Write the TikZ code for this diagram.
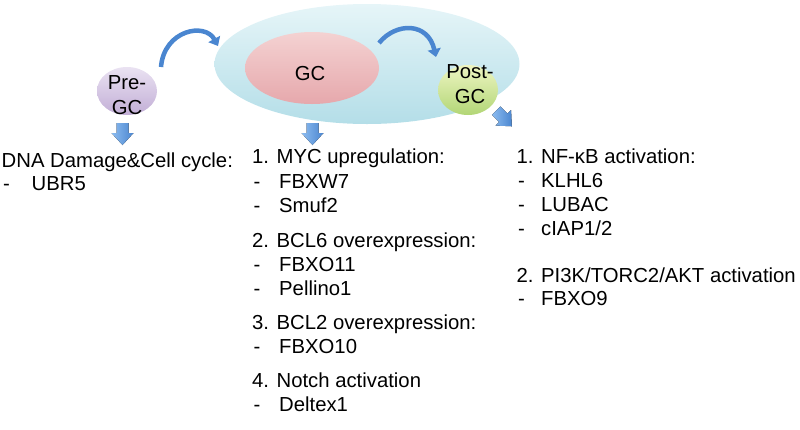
\documentclass[tikz,border=0pt]{standalone}
\usepackage{fontspec}
\setmainfont{Liberation Sans}
\usetikzlibrary{arrows.meta,shapes.geometric}
\definecolor{arrowblue}{HTML}{4A86D0}
\definecolor{arrowlight}{HTML}{8CBCF0}
\definecolor{zonetop}{HTML}{E6F5F8}
\definecolor{zonebot}{HTML}{B4DEE8}
\definecolor{gctop}{HTML}{F4D2D2}
\definecolor{gcbot}{HTML}{E6A8AC}
\definecolor{pretop}{HTML}{EAE2F2}
\definecolor{prebot}{HTML}{C2AED6}
\definecolor{posttop}{HTML}{EEF5C2}
\definecolor{postbot}{HTML}{B2D676}
\newcommand\dashitem[2]{\makebox[#1][l]{-}#2}
\newcommand\blockarrowat[3]{%
  \fill[blockfill,shift={(#1,#2)},rotate=#3]
    (-6,-11) -- (6,-11) -- (6,-1) -- (11,-1) -- (0,11) -- (-11,-1) -- (-6,-1) -- cycle;}
\tikzset{
  txt/.style={anchor=base west,inner sep=0pt,font=\fontsize{20.3}{24}\selectfont},
  cell/.style={ellipse,inner sep=0pt,draw=none},
  celltxt/.style={inner sep=0pt,font=\fontsize{20.3}{24.5}\selectfont,align=center},
  blockfill/.style={left color=arrowlight,right color=arrowblue},
  curvearrow/.style={draw=arrowblue,line width=4.5pt,-{Triangle[length=8pt,width=13pt]}}
}
\begin{document}
\begin{tikzpicture}[x=1pt,y=-1pt]
\useasboundingbox (0,0) rectangle (800,429);
% big GC zone
\node[cell,minimum width=305pt,minimum height=120pt,top color=zonetop,bottom color=zonebot] (zone) at (367,64) {};
\node[cell,minimum width=134pt,minimum height=72pt,top color=gctop,bottom color=gcbot] (gc) at (312,68) {};
\node[celltxt] (gctext) at (310,73.5) {GC};
\node[cell,minimum width=60pt,minimum height=48pt,top color=pretop,bottom color=prebot] (pre) at (127,91) {};
\node[celltxt] (pretext) at (127,95) {Pre-\\GC};
\node[cell,minimum width=60pt,minimum height=50pt,top color=posttop,bottom color=postbot] (post) at (468,90) {};
\node[celltxt] (posttext) at (470,84) {Post-\\GC};
% curved arrows
\coordinate (c1s) at (161,67);
\coordinate (c1e) at (218,46);
\coordinate (c2s) at (379,43);
\coordinate (c2e) at (436,57);
\draw[curvearrow] (c1s) .. controls (164,30) and (205,22) .. (c1e);
\draw[curvearrow] (c2s) .. controls (396,22) and (428,22) .. (c2e);
% block arrows
\blockarrowat{122.5}{134}{0}
\blockarrowat{312.5}{134}{0}
\blockarrowat{504}{118.5}{45}
% left column
\node[txt] (l1) at (1.5,167) {DNA Damage\&Cell cycle:};
\node[txt] (l2) at (3,190) {\dashitem{28.5pt}{UBR5}};
% middle column
\node[txt] (m1) at (252,163) {1. MYC upregulation:};
\node[txt] (m2) at (253.5,188) {\dashitem{25.5pt}{FBXW7}};
\node[txt] (m3) at (253.5,212) {\dashitem{25.5pt}{Smuf2}};
\node[txt] (m4) at (252,247) {2. BCL6 overexpression:};
\node[txt] (m5) at (253.5,271) {\dashitem{25.5pt}{FBXO11}};
\node[txt] (m6) at (253.5,295) {\dashitem{25.5pt}{Pellino1}};
\node[txt] (m7) at (252,329) {3. BCL2 overexpression:};
\node[txt] (m8) at (253.5,353) {\dashitem{25.5pt}{FBXO10}};
\node[txt] (m9) at (252,387) {4. Notch activation};
\node[txt] (m10) at (253.5,411) {\dashitem{25.5pt}{Deltex1}};
% right column
\node[txt] (r1) at (516.5,163) {1. NF-κB activation:};
\node[txt] (r2) at (518,187) {\dashitem{23pt}{KLHL6}};
\node[txt] (r3) at (518,211) {\dashitem{23pt}{LUBAC}};
\node[txt] (r4) at (518,235) {\dashitem{23pt}{cIAP1/2}};
\node[txt] (r5) at (516.5,282) {2. PI3K/TORC2/AKT activation};
\node[txt] (r6) at (518,305) {\dashitem{23pt}{FBXO9}};
\end{tikzpicture}
\end{document}
